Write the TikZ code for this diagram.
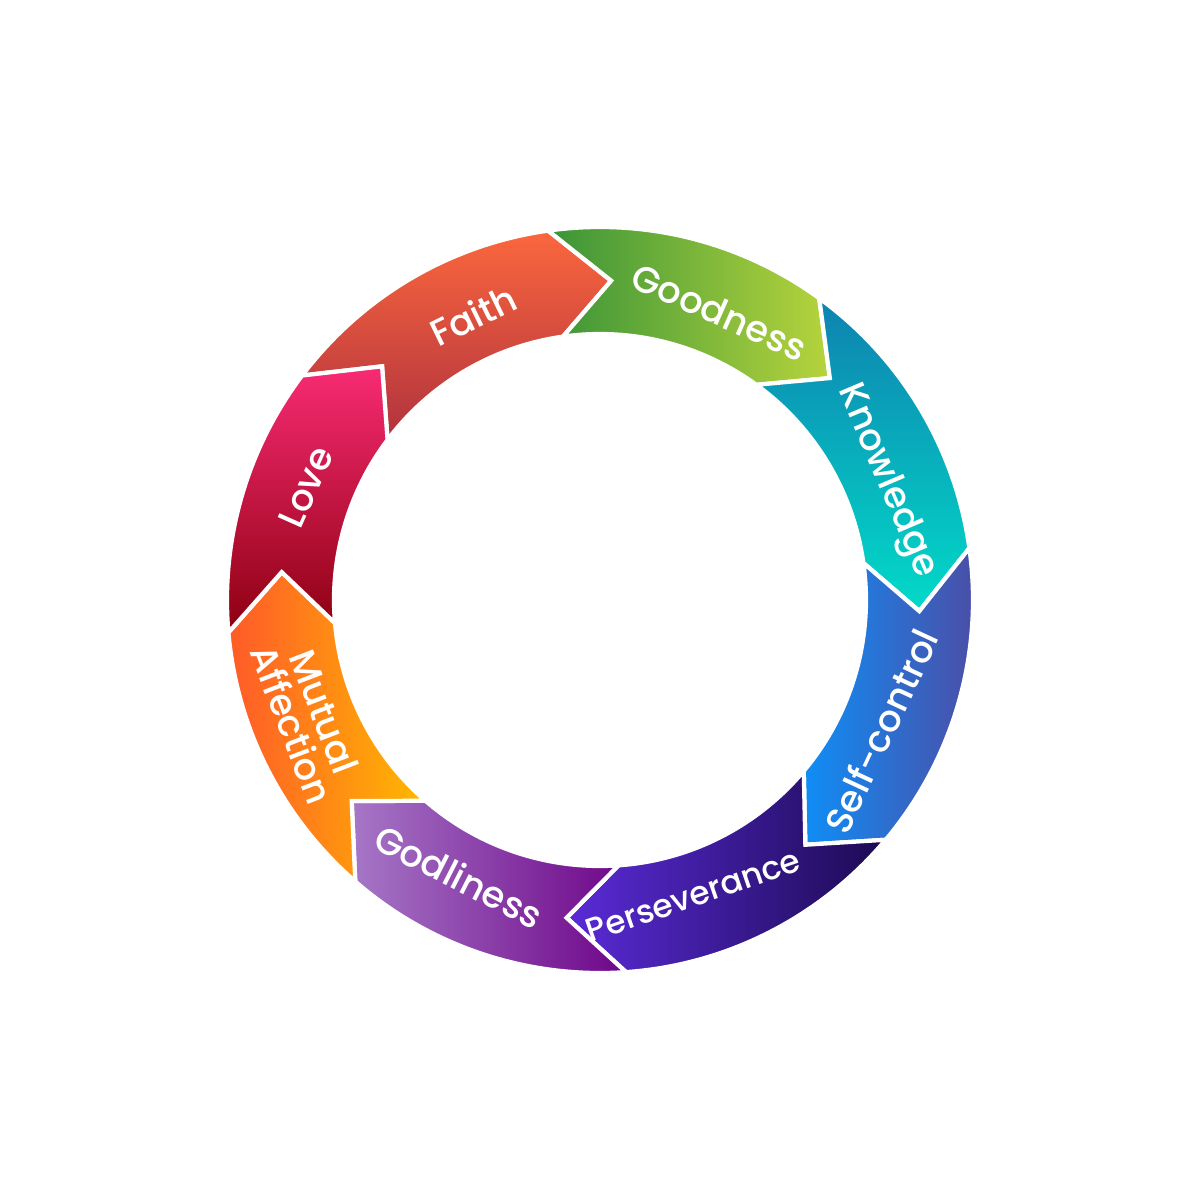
\documentclass[tikz,border=0pt]{standalone}
\usepackage{xcolor}
\usepackage{fontspec}
\usepackage{tikz}
\newfontfamily\labelfont{Poppins Medium}
\definecolor{faithtop}{HTML}{FB673E}
\definecolor{faithbot}{HTML}{B0323E}
\definecolor{goodleft}{HTML}{3A9438}
\definecolor{goodright}{HTML}{B6D43C}
\definecolor{knowtop}{HTML}{0E82B0}
\definecolor{knowbot}{HTML}{02DAC8}
\definecolor{selfleft}{HTML}{0F8EF6}
\definecolor{selfright}{HTML}{4E4BA3}
\definecolor{persleft}{HTML}{5A2BD8}
\definecolor{persright}{HTML}{1C0A52}
\definecolor{godleft}{HTML}{A677C7}
\definecolor{godright}{HTML}{6E0689}
\definecolor{mutleft}{HTML}{FF5A29}
\definecolor{mutright}{HTML}{FFB900}
\definecolor{lovetop}{HTML}{F82B73}
\definecolor{lovebot}{HTML}{8C0010}
\newcommand{\ringout}{3.73}
\newcommand{\ringin}{2.66}
\newcommand{\ringmid}{3.195}
% one arrow piece of the ring: start angle, end angle, shading
\newcommand{\ringpiece}[3]{%
  \path[piece, #3] (#1:\ringout) arc[start angle=#1, end angle=#2, radius=\ringout]
    -- ({#2-10}:\ringmid) -- (#2:\ringin) arc[start angle=#2, end angle=#1, radius=\ringin]
    -- ({#1-10}:\ringmid) -- cycle;}

\begin{document}
\begin{tikzpicture}[
  piece/.style={draw=white, line width=1.2pt, line join=miter},
  lbl/.style={text=white, inner sep=0pt, align=center,
              font=\labelfont\fontsize{10.5}{10}\selectfont}
]
  \useasboundingbox (-6,-6) rectangle (6,6);
  \ringpiece{143}{98}{top color=faithtop, bottom color=faithbot}
  \ringpiece{98}{54}{left color=goodleft, right color=goodright}
  \ringpiece{54}{8}{top color=knowtop, bottom color=knowbot}
  \ringpiece{8}{-40}{left color=selfleft, right color=selfright}
  \ringpiece{-40}{-86}{left color=persleft, right color=persright}
  \ringpiece{-86}{-131}{left color=godleft, right color=godright}
  \ringpiece{-131}{-175}{left color=mutleft, right color=mutright}
  \ringpiece{-175}{-217}{top color=lovetop, bottom color=lovebot}
  \node[lbl, rotate=26]  (faith)    at (114:3.12)   {Faith};
  \node[lbl, rotate=-24] (goodness) at (67.5:3.12)  {Goodness};
  \node[lbl, rotate=-67] (know)     at (22.5:3.1)   {Knowledge};
  \node[lbl, rotate=65]  (selfctl)  at (-25:3.1)    {Self-control};
  \node[lbl, rotate=19, font=\labelfont\fontsize{9.3}{10}\selectfont]
                         (persev)   at (-72.5:3.1)  {Perseverance};
  \node[lbl, rotate=-27] (godly)    at (-117:3.1)   {Godliness};
  \node[lbl, rotate=-69] (mutual)   at (-158:3.15)  {Mutual\\Affection};
  \node[lbl, rotate=66]  (love)     at (159:3.15)   {Love};
\end{tikzpicture}
\end{document}
